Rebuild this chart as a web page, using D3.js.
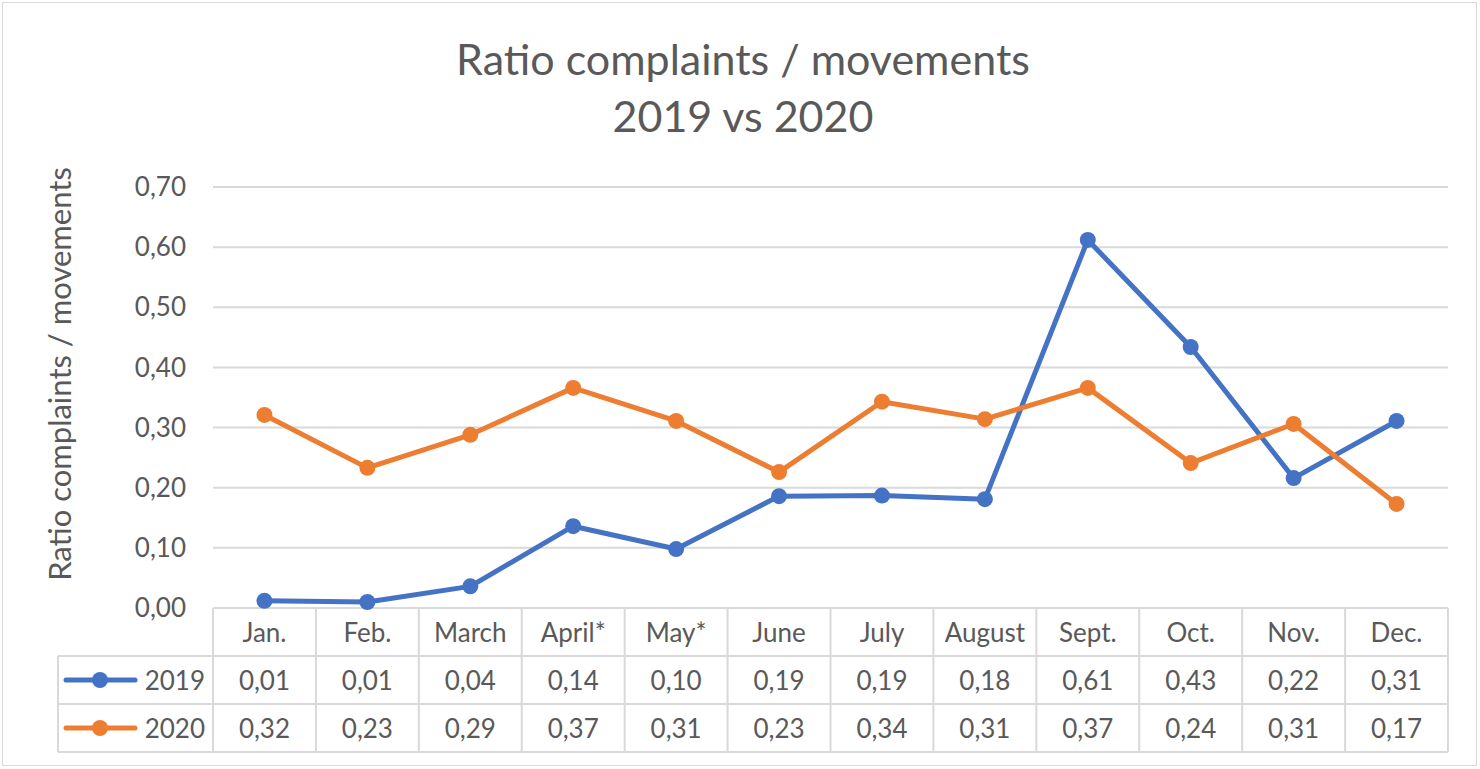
<!DOCTYPE html>
<html>
<head>
<meta charset="utf-8">
<script src="https://cdn.jsdelivr.net/npm/d3@7"></script>
<style>
  html, body { margin: 0; padding: 0; background: #fff; }
  svg { display: block; font-family: Lato, "Open Sans", sans-serif; }
</style>
</head>
<body>
<svg id="chart" width="1480" height="769"></svg>
<script>
// Chart data
const months = ["Jan.", "Feb.", "March", "April*", "May*", "June", "July", "August", "Sept.", "Oct.", "Nov.", "Dec."];
const values2019 = [0.012, 0.010, 0.036, 0.136, 0.098, 0.186, 0.187, 0.181, 0.612, 0.434, 0.216, 0.311];
const values2020 = [0.321, 0.233, 0.288, 0.366, 0.311, 0.226, 0.343, 0.314, 0.366, 0.241, 0.306, 0.173];
const yTicks = [0, 0.1, 0.2, 0.3, 0.4, 0.5, 0.6, 0.7];

const series = [
    { name: "2019", values: values2019, color: "#4472C4" },
    { name: "2020", values: values2020, color: "#ED7D31" }
];

const textColor = "#595959";
const gridColor = "#d9d9d9";
const labelSize = "26px";
const fmt = v => v.toFixed(2).replace(".", ",");

const svg = d3.select("#chart");

// Outer frame
svg.append("rect")
   .attr("x", 2.5).attr("y", 2.5)
   .attr("width", 1474).attr("height", 763)
   .attr("fill", "#fff")
   .attr("stroke", gridColor);

// Plot area
const plotLeft = 213, plotRight = 1448, plotTop = 187, plotBottom = 608;
const rowH = 48;
const legendLeft = 58;

const x = d3.scaleBand().domain(months).range([plotLeft, plotRight]);
const y = d3.scaleLinear().domain([0, 0.7]).range([plotBottom, plotTop]);
const cx = (d, j) => x(months[j]) + x.bandwidth() / 2;

// Title
const title = svg.append("text")
   .attr("text-anchor", "middle")
   .attr("fill", textColor)
   .style("font-size", "43px");
title.append("tspan").attr("x", 743).attr("y", 75).text("Ratio complaints / movements");
title.append("tspan").attr("x", 743).attr("y", 132).text("2019 vs 2020");

// Gridlines
svg.append("g")
   .selectAll("line")
   .data(yTicks.slice(1))
   .join("line")
   .attr("x1", plotLeft).attr("x2", plotRight)
   .attr("y1", d => y(d)).attr("y2", d => y(d))
   .attr("stroke", gridColor).attr("stroke-width", 2);

// Y axis labels
svg.append("g")
   .selectAll("text")
   .data(yTicks)
   .join("text")
   .attr("x", 186)
   .attr("y", d => y(d))
   .attr("dy", "0.35em")
   .attr("text-anchor", "end")
   .attr("fill", textColor)
   .style("font-size", labelSize)
   .text(fmt);

// Y axis title
svg.append("text")
   .attr("transform", "translate(71,374) rotate(-90)")
   .attr("text-anchor", "middle")
   .attr("fill", textColor)
   .style("font-size", "31px")
   .text("Ratio complaints / movements");

// Data table grid
const table = svg.append("g")
   .attr("stroke", gridColor)
   .attr("stroke-width", 2)
   .attr("fill", "none");

const colEdges = months.map(m => x(m)).concat([plotRight]);
table.selectAll("line.col")
   .data(colEdges)
   .join("line")
   .attr("class", "col")
   .attr("x1", d => d).attr("x2", d => d)
   .attr("y1", plotBottom).attr("y2", plotBottom + rowH * 3);
table.append("line")
   .attr("x1", legendLeft).attr("x2", legendLeft)
   .attr("y1", plotBottom + rowH).attr("y2", plotBottom + rowH * 3);
table.append("line")
   .attr("x1", plotLeft).attr("x2", plotRight)
   .attr("y1", plotBottom).attr("y2", plotBottom);
[1, 2, 3].forEach(r => {
    table.append("line")
       .attr("x1", legendLeft).attr("x2", plotRight)
       .attr("y1", plotBottom + rowH * r).attr("y2", plotBottom + rowH * r);
});

// Month labels
svg.append("g")
   .selectAll("text")
   .data(months)
   .join("text")
   .attr("x", d => x(d) + x.bandwidth() / 2)
   .attr("y", plotBottom + rowH / 2)
   .attr("dy", "0.4em")
   .attr("text-anchor", "middle")
   .attr("fill", textColor)
   .style("font-size", labelSize)
   .text(d => d);

// Series rows in table
series.forEach((s, i) => {
    const rowY = plotBottom + rowH * (i + 1.5);
    const row = svg.append("g");
    row.append("line")
       .attr("x1", 66).attr("x2", 135)
       .attr("y1", rowY).attr("y2", rowY)
       .attr("stroke", s.color).attr("stroke-width", 5)
       .attr("stroke-linecap", "round");
    row.append("circle")
       .attr("cx", 100).attr("cy", rowY).attr("r", 8)
       .attr("fill", s.color);
    row.append("text")
       .attr("x", 205).attr("y", rowY)
       .attr("dy", "0.4em")
       .attr("text-anchor", "end")
       .attr("fill", textColor)
       .style("font-size", labelSize)
       .text(s.name);
    row.selectAll("text.val")
       .data(s.values)
       .join("text")
       .attr("class", "val")
       .attr("x", cx)
       .attr("y", rowY)
       .attr("dy", "0.4em")
       .attr("text-anchor", "middle")
       .attr("fill", textColor)
       .style("font-size", labelSize)
       .text(fmt);
});

// Lines and markers
const line = d3.line()
   .x(cx)
   .y(d => y(d));

series.forEach(s => {
    svg.append("path")
       .datum(s.values)
       .attr("fill", "none")
       .attr("stroke", s.color)
       .attr("stroke-width", 5)
       .attr("stroke-linejoin", "round")
       .attr("stroke-linecap", "round")
       .attr("d", line);
    svg.append("g")
       .selectAll("circle")
       .data(s.values)
       .join("circle")
       .attr("cx", cx)
       .attr("cy", d => y(d))
       .attr("r", 8)
       .attr("fill", s.color);
});
</script>
</body>
</html>
